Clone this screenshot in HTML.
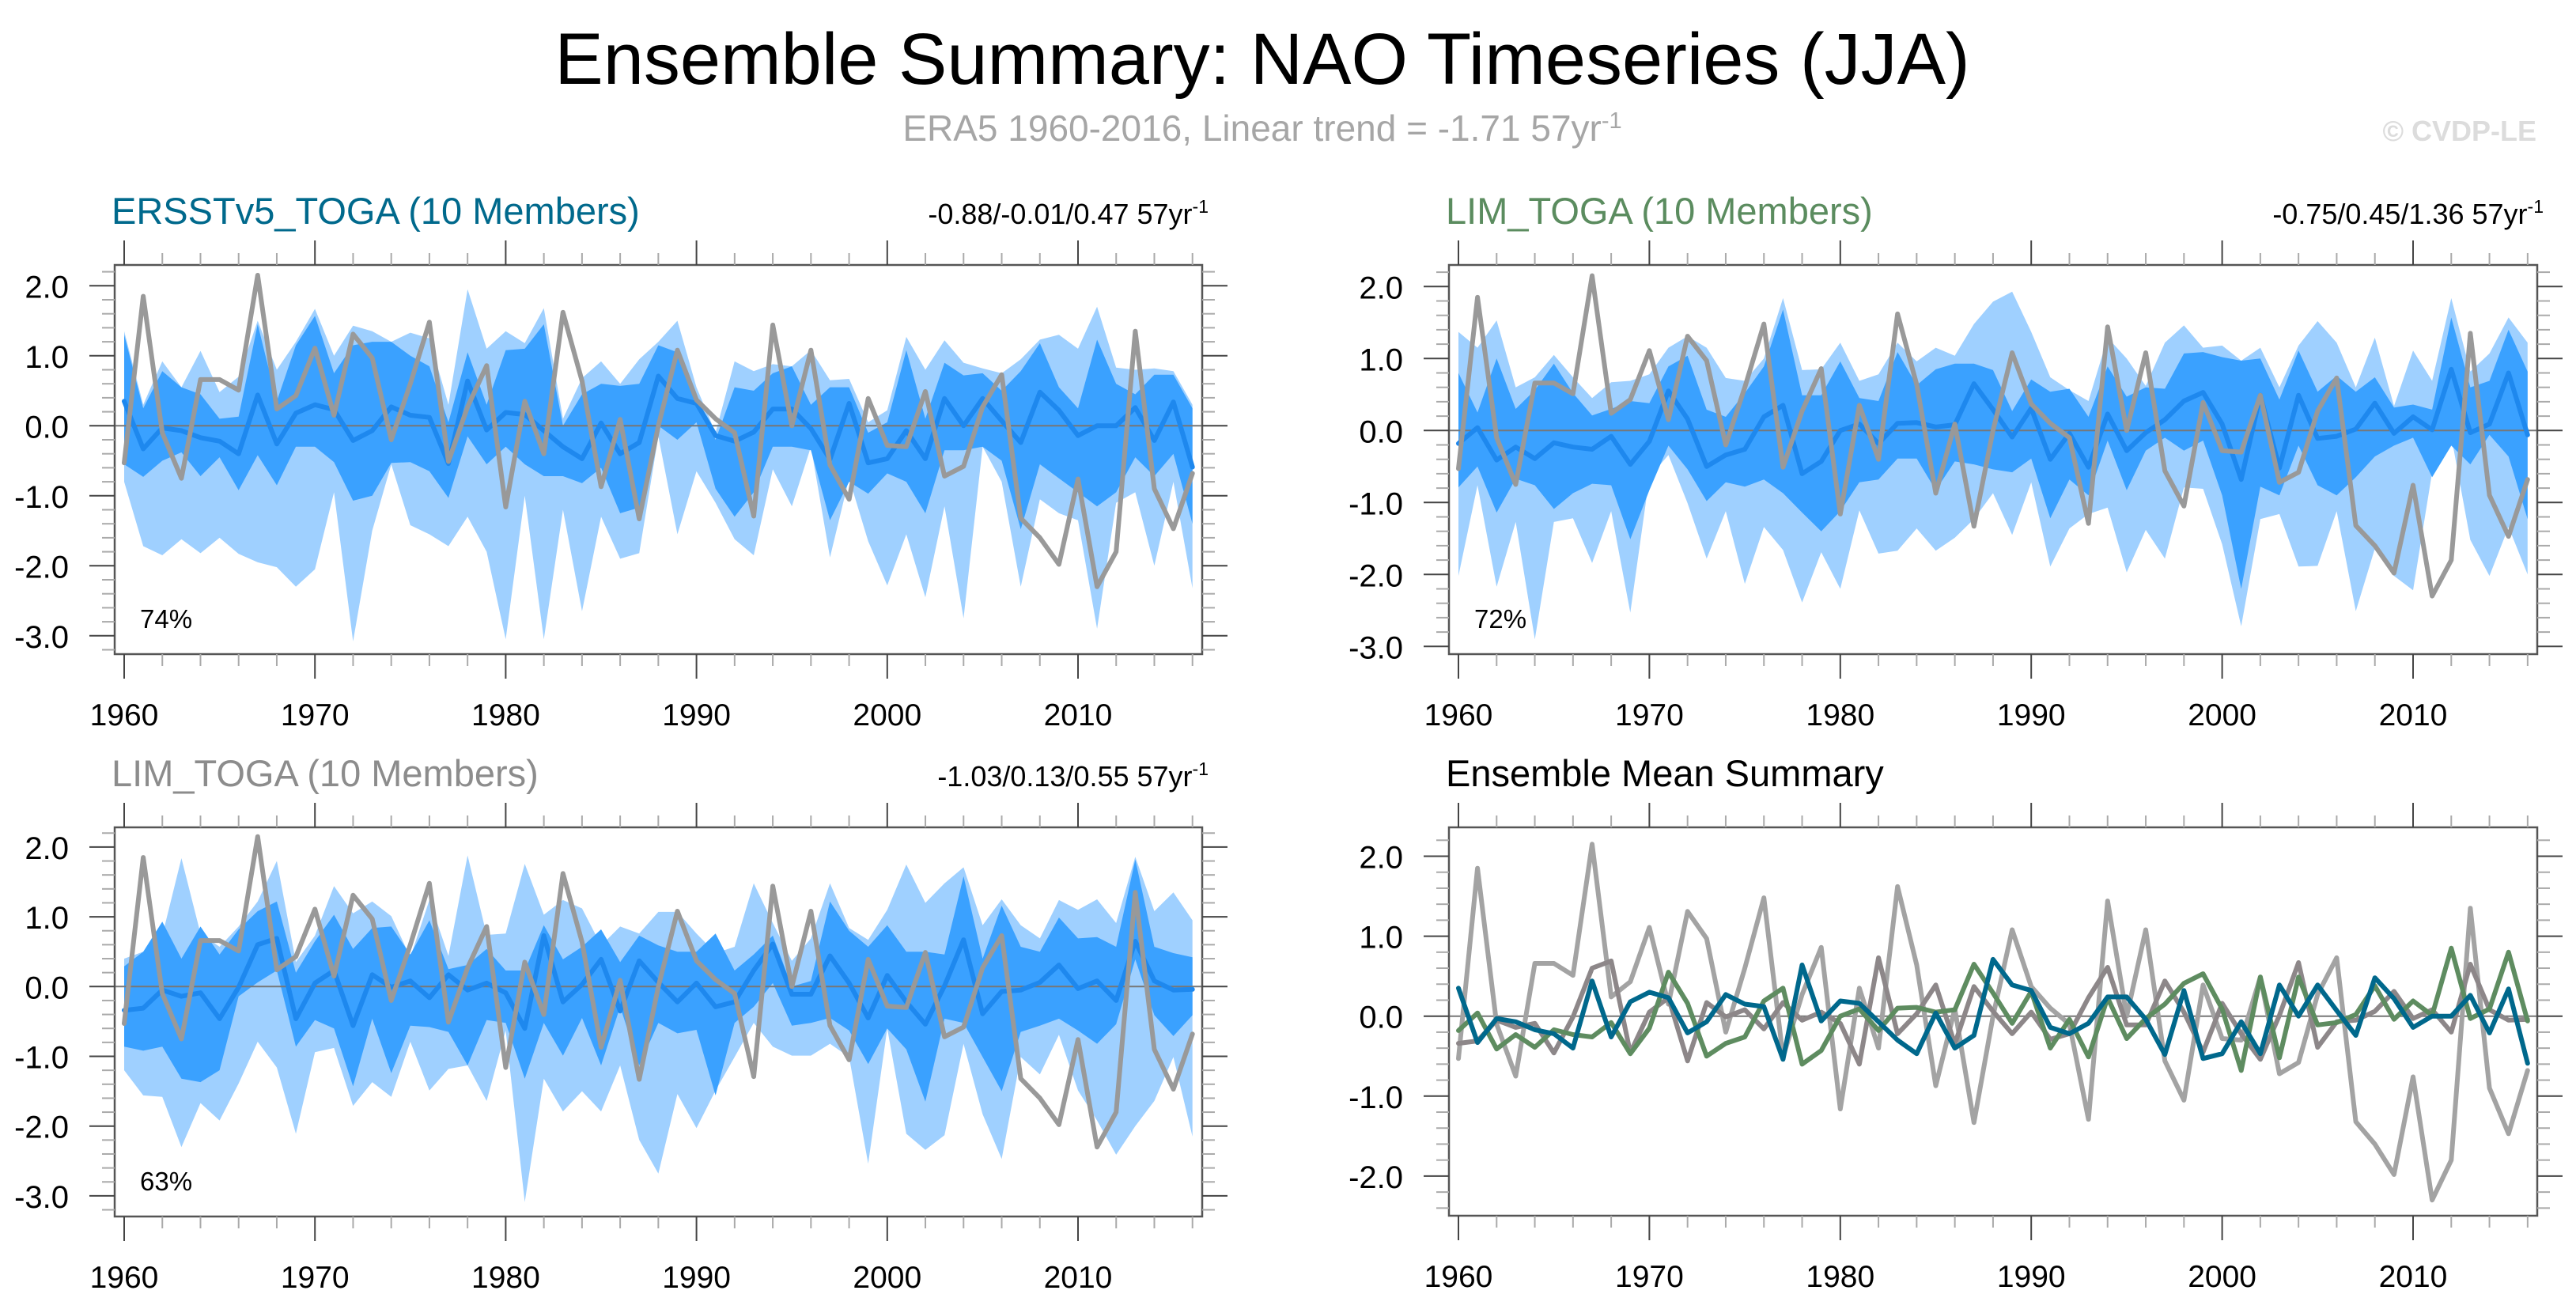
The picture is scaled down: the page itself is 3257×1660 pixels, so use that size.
<!DOCTYPE html>
<html><head><meta charset="utf-8"><title>Ensemble Summary: NAO Timeseries (JJA)</title>
<style>
html,body{margin:0;padding:0;background:#fff;}
svg{display:block;font-family:"Liberation Sans",Arial,sans-serif;}
</style></head>
<body>
<svg id="chart" xmlns="http://www.w3.org/2000/svg" width="3257" height="1660" viewBox="0 0 3257 1660">
<rect x="0" y="0" width="3257" height="1660" fill="#fff"/>
<text x="1596" y="106" text-anchor="middle" font-size="92" fill="#000">Ensemble Summary: NAO Timeseries (JJA)</text>
<text x="1596" y="178" text-anchor="middle" font-size="46" fill="#a6a6a6">ERA5 1960-2016, Linear trend = -1.71 57yr<tspan dy="-16" font-size="29">-1</tspan></text>
<text x="3207" y="178" text-anchor="end" font-size="36" font-weight="bold" fill="#dcdcdc">© CVDP-LE</text>
<g id="panels"></g>
</svg>
<script>
const years = [];
for (let y = 1960; y <= 2016; y++) years.push(y);

const obsERA5 = [-0.53,1.85,-0.1,-0.75,0.66,0.66,0.51,2.15,0.24,0.43,1.11,0.15,1.31,0.97,-0.2,0.6,1.48,-0.51,0.27,0.86,-1.16,0.35,-0.4,1.62,0.64,-0.87,0.09,-1.33,0.0,1.08,0.37,0.1,-0.1,-1.29,1.44,0.0,1.08,-0.56,-1.05,0.39,-0.28,-0.3,0.49,-0.72,-0.58,0.27,0.73,-1.32,-1.6,-1.98,-0.76,-2.3,-1.8,1.35,-0.9,-1.47,-0.68];

const ersstMean = [0.35,-0.33,-0.03,-0.07,-0.17,-0.22,-0.4,0.44,-0.26,0.18,0.3,0.23,-0.21,-0.07,0.27,0.15,0.12,-0.54,0.64,-0.06,0.19,0.16,-0.07,-0.3,-0.47,0.04,-0.4,-0.24,0.71,0.39,0.32,-0.14,-0.22,-0.09,0.24,0.24,-0.04,-0.48,0.32,-0.53,-0.47,-0.07,-0.47,0.39,0.0,0.39,0.07,-0.24,0.48,0.22,-0.14,0.0,0.0,0.26,-0.21,0.34,-0.59];
const ersstDarkHi = [1.3,0.25,0.78,0.55,0.45,0.1,0.13,1.45,0.35,1.15,1.57,0.75,1.15,1.2,1.2,1.0,0.85,0.05,1.05,0.3,1.08,1.1,1.45,0.0,0.45,0.6,0.57,0.6,1.15,1.05,0.4,-0.2,0.55,0.5,0.75,0.85,0.3,0.55,0.55,-0.1,0.05,1.08,0.1,0.9,0.72,0.75,0.5,0.78,1.18,0.55,0.25,1.23,0.6,0.45,0.73,0.73,0.25];
const ersstDarkLo = [-0.55,-0.73,-0.5,-0.38,-0.72,-0.45,-0.92,-0.42,-0.85,-0.3,-0.3,-0.52,-1.07,-1.0,-0.53,-0.52,-0.65,-1.03,-0.15,-0.55,-0.3,-0.55,-0.72,-0.72,-0.82,-0.6,-1.25,-1.17,0.0,-0.2,0.05,-0.9,-1.3,-0.95,-0.3,-0.3,-0.35,-1.35,-0.8,-0.97,-0.68,-0.8,-1.25,-0.35,-0.35,-0.3,-0.5,-1.48,-0.55,-0.75,-0.95,-1.15,-0.95,-0.45,-0.72,-0.4,-1.4];
const ersstLightHi = [1.35,0.3,0.92,0.55,1.07,0.48,0.7,1.5,0.8,1.2,1.67,1.0,1.43,1.35,1.2,1.33,1.25,0.3,1.95,1.1,1.35,1.18,1.68,0.1,0.68,0.92,0.6,0.95,1.2,1.5,0.55,-0.1,0.92,0.78,0.88,0.85,1.08,0.65,0.67,0.05,0.22,1.27,0.8,1.22,0.9,0.82,0.75,0.95,1.23,1.3,1.1,1.7,0.83,0.8,0.82,0.78,0.3];
const ersstLightLo = [-0.8,-1.72,-1.85,-1.62,-1.82,-1.6,-1.83,-1.95,-2.02,-2.3,-2.05,-0.95,-3.08,-1.5,-0.55,-1.42,-1.55,-1.72,-1.3,-1.8,-3.05,-1.0,-3.05,-1.2,-2.65,-1.3,-1.9,-1.82,-0.15,-1.55,-0.65,-1.1,-1.62,-1.85,-0.62,-1.15,-0.3,-1.88,-0.75,-1.65,-2.28,-1.55,-2.45,-1.15,-2.75,-0.3,-0.8,-2.3,-1.05,-1.25,-1.35,-2.9,-1.1,-0.95,-2.0,-0.8,-2.32];

const limMean = [-0.18,0.04,-0.41,-0.23,-0.39,-0.17,-0.23,-0.26,-0.08,-0.47,-0.15,0.55,0.16,-0.5,-0.34,-0.26,0.19,0.35,-0.6,-0.43,0.0,0.09,-0.18,0.1,0.11,0.05,0.08,0.65,0.29,-0.09,0.31,-0.4,-0.04,-0.51,0.23,-0.28,-0.03,0.15,0.41,0.53,0.09,-0.68,0.49,-0.52,0.49,-0.11,-0.08,0.02,0.38,-0.04,0.19,0.01,0.85,-0.03,0.09,0.8,-0.06];
const limDarkHi = [0.8,0.25,1.0,0.3,0.56,0.93,0.52,0.21,0.3,0.41,0.38,0.89,1.04,0.29,0.19,0.52,0.89,1.68,0.49,0.49,0.96,0.45,0.41,1.09,0.63,0.85,0.93,0.93,0.84,0.27,0.71,0.54,0.58,0.19,0.89,0.47,0.6,0.58,1.07,1.09,1.02,0.97,1.0,0.43,1.11,0.54,0.76,0.54,0.74,0.32,0.36,0.29,1.57,0.6,0.69,1.4,0.82];
const limDarkLo = [-0.79,-0.5,-1.14,-0.67,-0.76,-1.09,-0.87,-0.74,-0.76,-1.51,-0.83,-0.21,-0.54,-0.98,-0.72,-0.78,-0.68,-0.87,-1.14,-1.4,-1.12,-0.72,-0.68,-0.39,-0.39,-0.83,-0.43,-0.47,-0.54,-0.58,-0.39,-1.22,-0.68,-0.9,-0.14,-0.83,-0.28,-0.1,-0.28,-0.14,-0.9,-2.2,-0.78,-0.9,-0.21,-0.76,-0.9,-0.65,-0.36,-0.21,-0.1,-0.65,-0.21,-0.47,-0.06,-0.36,-1.23];
const limLightHi = [1.37,1.15,1.53,0.6,0.74,1.05,0.74,0.45,0.67,0.69,0.78,1.15,1.31,1.15,0.73,0.69,1.0,1.84,0.84,0.85,1.22,0.69,0.78,1.22,0.96,1.15,1.04,1.48,1.79,1.93,1.37,0.74,0.56,0.41,1.29,1.0,0.62,1.22,1.46,1.15,1.18,0.97,1.15,0.6,1.18,1.52,1.22,0.6,1.29,0.34,1.11,0.69,1.84,0.82,1.07,1.57,1.22];
const limLightLo = [-2.02,-0.76,-2.17,-1.27,-2.9,-1.27,-1.22,-1.84,-1.12,-2.53,-0.65,-0.34,-1.01,-1.78,-1.12,-2.13,-1.34,-1.66,-2.39,-1.69,-2.2,-1.11,-1.71,-1.67,-1.36,-1.67,-1.49,-1.23,-0.87,-1.45,-0.72,-1.89,-1.36,-1.16,-1.07,-1.97,-1.38,-1.78,-0.79,-0.81,-1.58,-2.72,-1.23,-1.16,-1.89,-1.88,-1.12,-2.51,-1.64,-2.02,-2.22,-0.58,-0.08,-1.52,-2.02,-1.34,-2.0];

const lim2Mean = [-0.34,-0.31,-0.05,-0.14,-0.09,-0.46,-0.01,0.6,0.69,-0.46,0.05,0.23,-0.56,0.17,-0.01,0.08,-0.16,0.17,-0.05,0.05,-0.09,-0.6,0.73,-0.22,0.03,0.39,-0.35,0.37,0.06,-0.22,0.05,-0.29,-0.22,0.23,0.61,-0.11,-0.11,0.44,0.05,-0.45,0.16,-0.22,-0.54,0.01,0.67,-0.39,-0.07,-0.05,0.06,0.31,-0.03,0.08,-0.2,0.65,0.08,-0.05,-0.04];
const lim2DarkHi = [0.29,0.5,0.93,0.4,0.86,0.46,0.82,1.08,1.22,0.2,0.65,1.03,0.54,0.84,0.86,0.46,0.95,0.25,0.31,0.54,0.23,0.23,0.88,0.39,0.57,0.82,0.35,0.73,0.59,0.5,0.5,0.76,0.23,0.46,0.73,0.0,0.08,1.22,0.8,0.57,0.88,0.5,0.5,0.46,1.58,0.4,1.16,0.57,0.5,0.99,0.69,0.71,0.57,1.82,0.57,0.48,0.42];
const lim2DarkLo = [-0.86,-0.92,-0.86,-1.32,-1.37,-1.2,-0.14,0.06,0.23,-0.86,-0.48,-0.6,-1.43,-0.46,-1.24,-0.56,-0.58,-0.65,-1.13,-0.48,-0.52,-1.32,-0.52,-0.99,-0.45,-1.13,-0.29,-1.13,-0.52,-0.67,-0.62,-1.56,-0.52,-0.29,0.05,-0.56,-0.52,-0.45,-0.63,-1.11,-0.6,-0.9,-1.65,-0.46,-0.52,-1.01,-1.5,-0.65,-0.56,-0.46,-0.63,-0.82,-0.54,0.39,-0.41,-0.71,-0.41];
const lim2LightHi = [0.4,0.5,0.73,1.84,0.76,0.57,0.86,1.22,1.8,0.35,0.73,1.44,1.05,1.22,1.01,0.42,1.24,0.44,1.88,0.74,0.76,1.76,1.03,1.24,1.12,0.59,0.86,0.76,1.07,1.07,0.76,0.48,0.57,1.48,0.91,0.37,0.69,1.48,0.84,0.67,1.1,1.75,1.2,1.48,1.71,0.88,1.25,0.88,0.69,1.24,1.1,1.25,0.91,1.86,1.08,1.35,0.95];
const lim2LightLo = [-1.2,-1.56,-1.58,-2.3,-1.67,-1.92,-1.39,-0.79,-1.16,-2.11,-0.94,-0.88,-1.71,-1.37,-1.58,-0.79,-1.49,-1.18,-1.13,-1.64,-0.63,-3.09,-1.32,-1.79,-1.5,-1.79,-1.13,-2.2,-2.68,-1.54,-2.03,-1.49,-1.01,-0.52,-0.86,-0.99,-0.99,-0.82,-1.01,-2.54,-0.6,-2.11,-2.34,-2.13,-0.82,-1.83,-2.47,-1.01,-1.26,-0.69,-1.49,-1.92,-2.41,-2.0,-1.64,-1.01,-2.15];

const xTickLabels = ["1960","1970","1980","1990","2000","2010"];
const yTickLabelsMain = ["2.0","1.0","0.0","-1.0","-2.0","-3.0"];
const yTickLabelsMean = ["2.0","1.0","0.0","-1.0","-2.0"];

const NS = "http://www.w3.org/2000/svg";
const root = document.getElementById("panels");
function mk(tag, attrs, parent) {
  const e = document.createElementNS(NS, tag);
  for (const k in attrs) e.setAttribute(k, attrs[k]);
  (parent || root).appendChild(e);
  return e;
}

const panels = [
  {id:"ersst", L:145, R:1520, T:335, B:827, x0:157, xs:24.12, y0:538.3, ys:88.5, minV:-3.2, maxV:2.2, labels:yTickLabelsMain,
   title:"ERSSTv5_TOGA (10 Members)", tcol:"#00698c", trend:"-0.88/-0.01/0.47 57yr", pct:"74%",
   bands:[ersstLightHi, ersstLightLo, ersstDarkHi, ersstDarkLo], mean:ersstMean},
  {id:"lim", L:1832, R:3208, T:335, B:827, x0:1844, xs:24.14, y0:544.3, ys:91, minV:-3.0, maxV:2.2, labels:yTickLabelsMain,
   title:"LIM_TOGA (10 Members)", tcol:"#5b8c5f", trend:"-0.75/0.45/1.36 57yr", pct:"72%",
   bands:[limLightHi, limLightLo, limDarkHi, limDarkLo], mean:limMean},
  {id:"lim-second", L:145, R:1520, T:1046, B:1538, x0:157, xs:24.12, y0:1247.3, ys:88.2, minV:-3.2, maxV:2.2, labels:yTickLabelsMain,
   title:"LIM_TOGA (10 Members)", tcol:"#8c8c8c", trend:"-1.03/0.13/0.55 57yr", pct:"63%",
   bands:[lim2LightHi, lim2LightLo, lim2DarkHi, lim2DarkLo], mean:lim2Mean},
  {id:"ensemble-mean", L:1832, R:3208, T:1046, B:1537, x0:1844, xs:24.14, y0:1284.7, ys:101.1, minV:-2.4, maxV:2.2, labels:yTickLabelsMean,
   title:"Ensemble Mean Summary", tcol:"#000", trend:null, pct:null, bands:null, mean:null}
];

panels.forEach(function(p, pi) {
  const g = mk("g", {});
  
  
  const xf = function(yr){ return p.x0 + p.xs * (yr - 1960); };
  const yf = function(v){ return p.y0 - p.ys * v; };
  const clipId = "clip" + pi;
  const cp = mk("clipPath", {id: clipId}, g);
  mk("rect", {x:p.L, y:p.T, width:p.R-p.L, height:p.B-p.T}, cp);

  const t = mk("text", {x:p.L-4, y:p.T-52, "font-size":47, fill:p.tcol}, g);
  t.textContent = p.title;
  
  
  if (p.trend) {
    const tr = mk("text", {x:p.R+8, y:p.T-52, "font-size":36, fill:"#000", "text-anchor":"end"}, g);
    tr.textContent = p.trend;
    const sup = mk("tspan", {dy:-14, "font-size":23}, tr);
    sup.textContent = "-1";
    
    
  }

  const plot = mk("g", {"clip-path":"url(#" + clipId + ")"}, g);
  
  

  if (p.bands) {
    const cols = ["#9fd0ff", "#3aa1ff"];
    for (let b = 0; b < 2; b++) {
      const hi = p.bands[b*2], lo = p.bands[b*2+1];
      let pts = [];
      for (let i = 0; i < years.length; i++) pts.push(xf(years[i]).toFixed(1) + "," + yf(hi[i]).toFixed(1));
      for (let i = years.length - 1; i >= 0; i--) pts.push(xf(years[i]).toFixed(1) + "," + yf(lo[i]).toFixed(1));
      const poly = mk("polygon", {points: pts.join(" "), fill: cols[b]}, plot);
      
      
    }
  }
  const zl = mk("line", {x1:p.L, x2:p.R, y1:yf(0), y2:yf(0), stroke:"#777", "stroke-width":2}, plot);
  
  

  function series(arr, col, w, name) {
    const pts = arr.map(function(v, i){ return xf(years[i]).toFixed(1) + "," + yf(v).toFixed(1); }).join(" ");
    const pl = mk("polyline", {points: pts, fill:"none", stroke: col, "stroke-width": w, "stroke-linejoin":"round", "stroke-linecap":"round"}, plot);
    
    
  }
  if (p.mean) {
    series(p.mean, "#1e88ee", 6, "ensemble-mean-line");
    series(obsERA5, "#999999", 6, "era5-observed-line");
  } else {
    series(obsERA5, "#a3a3a3", 6, "era5-observed-line");
    series(lim2Mean, "#8d8789", 6, "lim-toga-second-mean-line");
    series(limMean, "#5e8c60", 6, "lim-toga-mean-line");
    series(ersstMean, "#00688c", 6, "ersstv5-toga-mean-line");
  }

  const fr = mk("rect", {x:p.L, y:p.T, width:p.R-p.L, height:p.B-p.T, fill:"none", stroke:"#555", "stroke-width":2.5}, g);
  
  

  const xt = mk("g", {}, g);
  
  
  for (let yr = 1960; yr <= 2016; yr += 2) {
    const major = (yr % 10 === 0);
    const len = major ? 31 : 15;
    const col = major ? "#444" : "#aaa";
    const x = xf(yr);
    mk("line", {x1:x, x2:x, y1:p.B, y2:p.B+len, stroke:col, "stroke-width":2}, xt);
    mk("line", {x1:x, x2:x, y1:p.T, y2:p.T-len, stroke:col, "stroke-width":2}, xt);
  }
  xTickLabels.forEach(function(lab) {
    const tl = mk("text", {x:xf(+lab), y:p.B+90, "font-size":39, "text-anchor":"middle", fill:"#000"}, xt);
    tl.textContent = lab;
    
    
  });
  const yt = mk("g", {}, g);
  
  
  for (let k = Math.round(p.minV*5); k <= Math.round(p.maxV*5); k++) {
    const v = k / 5;
    const major = (k % 5 === 0);
    const len = major ? 32 : 16;
    const col = major ? "#444" : "#aaa";
    const y = yf(v);
    mk("line", {x1:p.L, x2:p.L-len, y1:y, y2:y, stroke:col, "stroke-width":2}, yt);
    mk("line", {x1:p.R, x2:p.R+len, y1:y, y2:y, stroke:col, "stroke-width":2}, yt);
  }
  p.labels.forEach(function(lab) {
    const tl = mk("text", {x:p.L-58, y:yf(+lab)+15, "font-size":40, "text-anchor":"end", fill:"#000"}, yt);
    tl.textContent = lab;
    
    
  });
  if (p.pct) {
    const pc = mk("text", {x:p.L+32, y:p.B-33, "font-size":33, fill:"#000"}, g);
    pc.textContent = p.pct;
    
    
  }
});
</script>
</body></html>
